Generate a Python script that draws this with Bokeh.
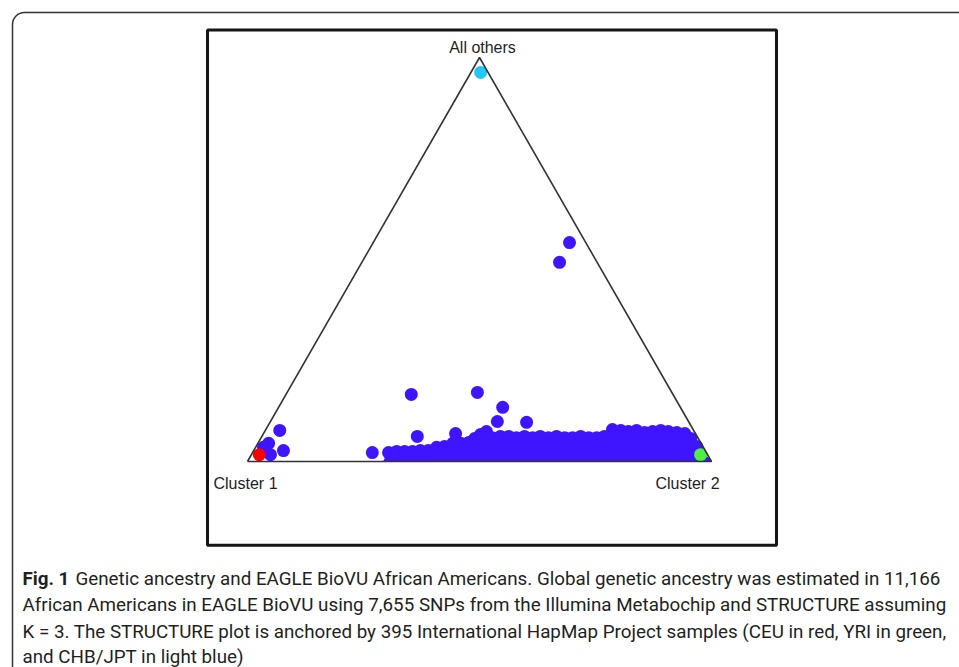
import math
from bokeh.plotting import figure
from bokeh.models import Label, BoxAnnotation
from bokeh.embed import file_html
from bokeh.resources import INLINE

# ---- data: ternary proportions (Cluster 2 share, All-others share) ----
# HapMap anchors
ceu_c2 = [0.017]
ceu_oth = [0.017]
yri_c2 = [0.968]
yri_oth = [0.017]
asn_c2 = [0.021]
asn_oth = [0.963]

# individual (outlying) African American samples
aa_c2 = [0.423, 0.426, 0.270, 0.410, 0.483, 0.489, 0.553, 0.335, 0.414, 0.258,
         0.031, 0.023, 0.064, 0.041, 0.017]
aa_oth = [0.542, 0.493, 0.166, 0.171, 0.134, 0.099, 0.097, 0.062, 0.069, 0.022,
          0.077, 0.045, 0.027, 0.017, 0.035]

# samples along the upper edge of the dense African American cloud
edge_c2 = [0.293, 0.309, 0.326, 0.343, 0.359, 0.376, 0.390, 0.406, 0.420, 0.437,
           0.453, 0.461, 0.469, 0.478, 0.498, 0.514, 0.532, 0.550, 0.566, 0.585,
           0.600, 0.619, 0.635, 0.654, 0.671, 0.687, 0.706, 0.723, 0.738, 0.747,
           0.766, 0.784, 0.800, 0.820, 0.836, 0.852, 0.870, 0.889, 0.908, 0.927,
           0.950]
edge_oth = [0.022, 0.025, 0.025, 0.025, 0.027, 0.027, 0.035, 0.037, 0.045, 0.045,
            0.047, 0.057, 0.067, 0.074, 0.059, 0.062, 0.062, 0.059, 0.062, 0.059,
            0.062, 0.059, 0.062, 0.059, 0.059, 0.062, 0.059, 0.059, 0.062, 0.079,
            0.077, 0.074, 0.077, 0.072, 0.074, 0.077, 0.074, 0.072, 0.069, 0.057,
            0.037]

vertex_labels = ["Cluster 1", "Cluster 2", "All others"]

caption_bold = "Fig. 1"
caption_lines = [
    "Genetic ancestry and EAGLE BioVU African Americans. Global genetic ancestry was estimated in 11,166",
    "African Americans in EAGLE BioVU using 7,655 SNPs from the Illumina Metabochip and STRUCTURE assuming",
    "K = 3. The STRUCTURE plot is anchored by 395 International HapMap Project samples (CEU in red, YRI in green,",
    "and CHB/JPT in light blue)",
]

H = math.sqrt(3) / 2


def tern(c2, oth):
    xs = [a + b / 2 for a, b in zip(c2, oth)]
    ys = [b * H for b in oth]
    return xs, ys


# picture-pixel -> data helpers (for decorations only)
def X(sx):
    return (sx - 247) / 464.0


def Y(sy):
    return (461 - sy) / 466.5


W, Hh = 959, 667
p = figure(width=W, height=Hh, output_backend="svg", toolbar_location=None,
           x_range=(X(0), X(W)), y_range=(Y(Hh), Y(0)),
           x_axis_location=None, y_axis_location=None, min_border=0)
p.grid.visible = False
p.outline_line_color = None
p.background_fill_color = "white"
p.border_fill_color = "white"

# outer rounded frame
p.add_layout(BoxAnnotation(left=X(12), right=X(1000), top=Y(12), bottom=Y(720),
                           fill_alpha=0, line_color="#333333", line_alpha=1,
                           line_width=1.5, border_radius=12))
# plot box
p.add_layout(BoxAnnotation(left=X(207), right=X(776), top=Y(29.5), bottom=Y(544.7),
                           fill_alpha=0, line_color="#151515", line_alpha=1,
                           line_width=3))

BLUE = "#3f14ff"

# dense cloud
ex, ey = tern(edge_c2, edge_oth)
px = [edge_c2[0]] + ex + [1.0]
py = [0.0] + ey + [0.0]
p.patch(px, py, fill_color=BLUE, line_color=BLUE, line_width=1)
p.scatter(ex, ey, size=13, fill_color=BLUE, line_color=None)

ax, ay = tern(aa_c2, aa_oth)
p.scatter(ax, ay, size=13, fill_color=BLUE, line_color=None)

for c2, oth, col in [(ceu_c2, ceu_oth, "#ff0000"), (yri_c2, yri_oth, "#50f040"),
                     (asn_c2, asn_oth, "#22c8f8")]:
    x, y = tern(c2, oth)
    p.scatter(x, y, size=13, fill_color=col, line_color=None)

# triangle
tx, ty = tern([0, 1, 0, 0], [0, 0, 1, 0])
p.line(tx, ty, line_color="#333333", line_width=1.6)

lab_font = "Liberation Sans"
p.add_layout(Label(x=X(213), y=Y(483), text=vertex_labels[0], text_font=lab_font,
                   text_font_size="16px", text_color="#1e1e1e", text_baseline="middle"))
p.add_layout(Label(x=X(655), y=Y(483), text=vertex_labels[1], text_font=lab_font,
                   text_font_size="16px", text_color="#1e1e1e", text_baseline="middle"))
p.add_layout(Label(x=X(482), y=Y(47), text=vertex_labels[2], text_font=lab_font,
                   text_font_size="16px", text_color="#1e1e1e", text_baseline="middle",
                   text_align="center"))

cap_font = "Roboto"
cap_size = "18.8px"
cap_y = [578, 604.5, 631, 656.5]
p.add_layout(Label(x=X(22), y=Y(cap_y[0]), text=caption_bold, text_font=cap_font,
                   text_font_size=cap_size, text_font_style="bold", text_color="#231f20",
                   text_baseline="middle"))
for i, line in enumerate(caption_lines):
    x0 = X(75) if i == 0 else X(22)
    p.add_layout(Label(x=x0, y=Y(cap_y[i]), text=line, text_font=cap_font,
                       text_font_size=cap_size, text_color="#231f20", text_baseline="middle"))

open("out.html", "w").write(file_html(p, INLINE))
